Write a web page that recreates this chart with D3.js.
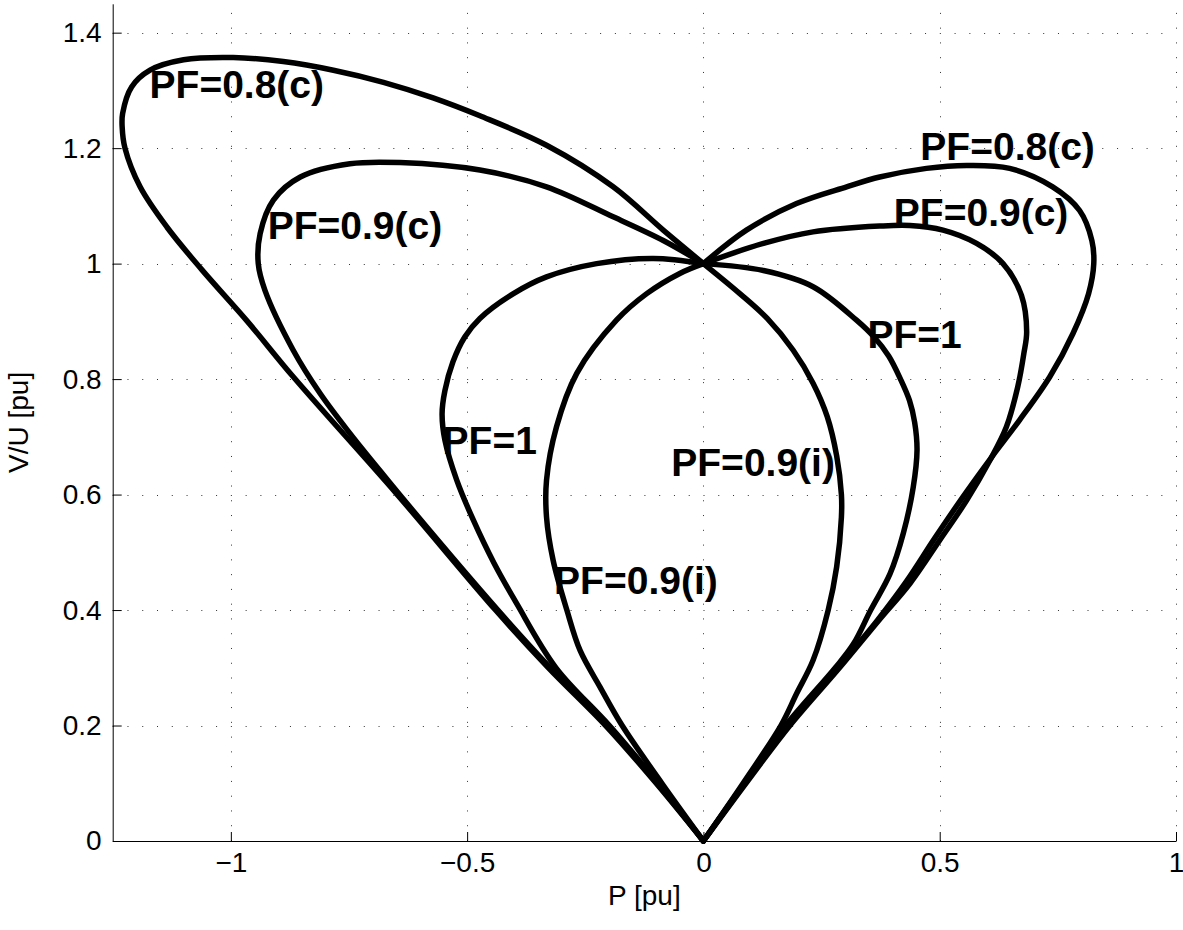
<!DOCTYPE html>
<html>
<head>
<meta charset="utf-8">
<script src="https://cdn.jsdelivr.net/npm/d3@7"></script>
<style>
  html, body { margin: 0; padding: 0; background: #fff; }
  svg { display: block; }
  text { font-family: "Liberation Sans", Arial, Helvetica, sans-serif; }
</style>
</head>
<body>
<svg id="chart" width="1183" height="930"></svg>
<script>
// ---- axis definition ----
const xDomain = [-1.25, 1];
const yDomain = [0, 1.45];
const xTicks = [-1, -0.5, 0, 0.5, 1];
const xTickLabels = ["\u22121", "\u22120.5", "0", "0.5", "1"];
const yTicks = [0, 0.2, 0.4, 0.6, 0.8, 1, 1.2, 1.4];
const yTickLabels = ["0", "0.2", "0.4", "0.6", "0.8", "1", "1.2", "1.4"];
const xLabel = "P [pu]";
const yLabel = "V/U [pu]";

// ---- PV curves: [P, V/U] pairs, from (0,1) round the nose back to (0,0) ----
const pf08cLeft = [
  [0, 1.000], [-0.085, 1.058], [-0.191, 1.133], [-0.332, 1.205], [-0.473, 1.256],
  [-0.572, 1.287], [-0.677, 1.314], [-0.783, 1.335], [-0.889, 1.350], [-0.995, 1.357],
  [-1.100, 1.353], [-1.171, 1.335], [-1.210, 1.306], [-1.229, 1.260], [-1.230, 1.237],
  [-1.224, 1.200], [-1.192, 1.133], [-1.135, 1.063], [-1.062, 0.990], [-0.965, 0.900],
  [-0.868, 0.804], [-0.650, 0.602], [-0.440, 0.400], [-0.328, 0.300], [-0.207, 0.200],
  [-0.100, 0.100], [0, 0]
];
const pf09cLeft = [
  [0, 1.000], [-0.085, 1.040], [-0.191, 1.081], [-0.332, 1.133], [-0.473, 1.162],
  [-0.642, 1.175], [-0.748, 1.173], [-0.853, 1.150], [-0.910, 1.110], [-0.938, 1.052],
  [-0.942, 1.000], [-0.928, 0.954], [-0.868, 0.850], [-0.811, 0.775], [-0.748, 0.706],
  [-0.693, 0.650], [-0.640, 0.597], [-0.435, 0.400], [-0.324, 0.300], [-0.203, 0.200],
  [-0.098, 0.100], [0, 0]
];
const pf1Left = [
  [0, 1.000], [-0.106, 1.009], [-0.226, 1.000], [-0.332, 0.977], [-0.402, 0.948],
  [-0.473, 0.905], [-0.505, 0.873], [-0.530, 0.830], [-0.547, 0.780], [-0.553, 0.740],
  [-0.547, 0.694], [-0.522, 0.625], [-0.487, 0.556], [-0.443, 0.481], [-0.395, 0.411],
  [-0.312, 0.300], [-0.199, 0.200], [-0.096, 0.100], [0, 0]
];
const pf09iLeft = [
  [0, 1.000], [-0.050, 0.983], [-0.120, 0.948], [-0.184, 0.902], [-0.268, 0.810],
  [-0.311, 0.717], [-0.332, 0.625], [-0.332, 0.561], [-0.318, 0.486], [-0.289, 0.400],
  [-0.261, 0.330], [-0.219, 0.267], [-0.172, 0.200], [-0.088, 0.100], [0, 0]
];
const pf08cRight = [
  [0, 1.000], [0.091, 1.058], [0.197, 1.104], [0.303, 1.133], [0.373, 1.150],
  [0.472, 1.165], [0.557, 1.170], [0.648, 1.165], [0.739, 1.133], [0.796, 1.092],
  [0.822, 1.040], [0.826, 1.000], [0.815, 0.948], [0.782, 0.879], [0.733, 0.804],
  [0.669, 0.729], [0.610, 0.665], [0.550, 0.597], [0.490, 0.525], [0.430, 0.450],
  [0.368, 0.382], [0.285, 0.300], [0.180, 0.200], [0.088, 0.100], [0, 0]
];
const pf09cRight = [
  [0, 1.000], [0.127, 1.035], [0.232, 1.055], [0.373, 1.065], [0.437, 1.066],
  [0.507, 1.058], [0.578, 1.035], [0.634, 1.000], [0.673, 0.945], [0.684, 0.882],
  [0.678, 0.844], [0.665, 0.786], [0.641, 0.717], [0.606, 0.659], [0.557, 0.590],
  [0.500, 0.521], [0.437, 0.446], [0.371, 0.382], [0.288, 0.300], [0.183, 0.200],
  [0.090, 0.100], [0, 0]
];
const pf1Right = [
  [0, 1.000], [0.127, 0.988], [0.232, 0.960], [0.324, 0.902], [0.362, 0.872],
  [0.392, 0.840], [0.417, 0.800], [0.436, 0.763], [0.447, 0.725], [0.452, 0.677],
  [0.444, 0.613], [0.423, 0.533], [0.395, 0.463], [0.354, 0.400], [0.318, 0.342],
  [0.279, 0.300], [0.174, 0.200], [0.086, 0.100], [0, 0]
];
const pf09iRight = [
  [0, 1.000], [0.077, 0.948], [0.135, 0.905], [0.190, 0.850], [0.232, 0.793],
  [0.262, 0.735], [0.282, 0.667], [0.292, 0.600], [0.292, 0.561], [0.282, 0.475],
  [0.264, 0.400], [0.232, 0.313], [0.197, 0.255], [0.164, 0.200], [0.084, 0.100], [0, 0]
];

const curves = [pf08cLeft, pf09cLeft, pf1Left, pf09iLeft,
                pf08cRight, pf09cRight, pf1Right, pf09iRight];

// ---- curve annotations (text start, baseline) in data units ----
const labelText = ["PF=0.8(c)", "PF=0.9(c)", "PF=1", "PF=0.9(i)",
                   "PF=0.9(i)", "PF=0.8(c)", "PF=0.9(c)", "PF=1"];
const labelP = [-1.172, -0.922, -0.552, -0.316, -0.068, 0.459, 0.403, 0.347];
const labelV = [1.286, 1.043, 0.671, 0.427, 0.632, 1.179, 1.066, 0.853];

// ---- layout ----
const plot = { left: 112.7, right: 1176, top: 3.8, bottom: 841 };
const svg = d3.select("#chart");

const x = d3.scaleLinear().domain(xDomain).range([plot.left, plot.right]);
const y = d3.scaleLinear().domain(yDomain).range([plot.bottom, plot.top]);

// dotted grid
const grid = svg.append("g")
  .attr("stroke", "#333")
  .attr("stroke-width", 1)
  .attr("stroke-dasharray", "1,13.77");
grid.selectAll("line.gx").data(xTicks).join("line")
  .attr("class", "gx")
  .attr("x1", d => Math.round(x(d)) + 0.5).attr("x2", d => Math.round(x(d)) + 0.5)
  .attr("y1", plot.bottom).attr("y2", plot.top);
grid.selectAll("line.gy").data(yTicks.filter(d => d > 0)).join("line")
  .attr("class", "gy")
  .attr("y1", d => Math.round(y(d)) + 0.5).attr("y2", d => Math.round(y(d)) + 0.5)
  .attr("x1", plot.left).attr("x2", plot.right);

// axes (ticks pointing inwards)
const xAxis = d3.axisBottom(x)
  .tickValues(xTicks)
  .tickFormat((d, i) => xTickLabels[i])
  .tickSizeInner(-9).tickSizeOuter(0).tickPadding(11);
const yAxis = d3.axisLeft(y)
  .tickValues(yTicks)
  .tickFormat((d, i) => yTickLabels[i])
  .tickSizeInner(-9).tickSizeOuter(0).tickPadding(11);

const gx = svg.append("g").attr("transform", `translate(0,${plot.bottom})`).call(xAxis);
const gy = svg.append("g").attr("transform", `translate(${plot.left},0)`).call(yAxis);
[gx, gy].forEach(g => {
  g.attr("font-size", 28).attr("font-family", "'Liberation Sans', Arial, Helvetica, sans-serif");
  g.selectAll("path, line").attr("stroke", "#000").attr("stroke-width", 1);
  g.selectAll("text").attr("fill", "#000");
});

// axis titles
svg.append("text")
  .attr("x", (plot.left + plot.right) / 2).attr("y", 905)
  .attr("text-anchor", "middle").attr("font-size", 28)
  .text(xLabel);
svg.append("text")
  .attr("transform", `translate(28,${(plot.top + plot.bottom) / 2}) rotate(-90)`)
  .attr("text-anchor", "middle").attr("font-size", 28)
  .text(yLabel);

// curves
const line = d3.line()
  .x(d => x(d[0]))
  .y(d => y(d[1]))
  .curve(d3.curveCatmullRom.alpha(0.5));

svg.append("g")
  .selectAll("path").data(curves).join("path")
  .attr("d", line)
  .attr("fill", "none")
  .attr("stroke", "#000")
  .attr("stroke-width", 5.5)
  .attr("stroke-linejoin", "round")
  .attr("stroke-linecap", "round");

// annotations
svg.append("g")
  .selectAll("text").data(labelText).join("text")
  .attr("x", (d, i) => x(labelP[i]))
  .attr("y", (d, i) => y(labelV[i]))
  .attr("font-size", 39)
  .attr("font-weight", "bold")
  .attr("fill", "#000")
  .text(d => d);
</script>
</body>
</html>
